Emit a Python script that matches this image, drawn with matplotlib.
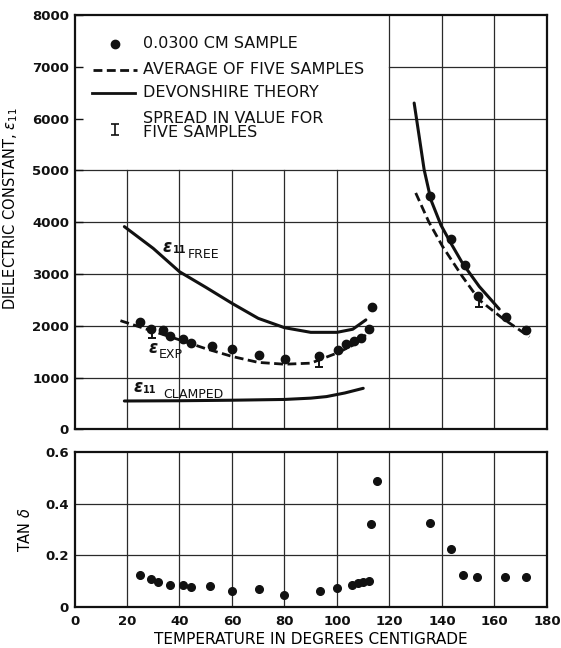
import numpy as np
import matplotlib
matplotlib.use("Agg")
import matplotlib.pyplot as plt

# ---- data ----
# 0.0300 cm sample, dielectric constant
dots_t_lo = [25.1, 29.3, 33.8, 36.5, 41.2, 44.5, 52.3, 60.0, 70.2, 80.3, 93.2,
             100.5, 103.6, 106.5, 109.0, 112.2, 113.5]
dots_e_lo = [2070, 1940, 1925, 1810, 1750, 1675, 1610, 1560, 1440, 1365, 1420,
             1535, 1650, 1705, 1760, 1935, 2365]
dots_t_hi = [135.5, 143.4, 148.6, 153.9, 164.2, 172.0]
dots_e_hi = [4500, 3680, 3165, 2585, 2175, 1920]

# average of five samples (dashed)
avg_t_lo = [17.5, 30, 40, 50, 60, 70, 80, 90, 100, 106, 111]
avg_e_lo = [2100, 1895, 1730, 1560, 1410, 1295, 1260, 1280, 1475, 1625, 1825]
avg_t_hi = [130.0, 135.0, 140.2, 147.8, 154.2, 163.1, 173.3]
avg_e_hi = [4565, 4005, 3535, 2950, 2500, 2145, 1790]

# Devonshire theory (solid)
free_t = [19, 30, 40, 50, 60, 70, 80, 90, 100, 106, 111]
free_e = [3915, 3495, 3045, 2745, 2435, 2145, 1965, 1875, 1875, 1935, 2115]
clamp_t = [19, 40, 60, 80, 90, 96, 103, 110]
clamp_e = [550, 555, 565, 580, 605, 635, 705, 795]
dev_t_hi = [129.4, 131.3, 133.2, 135.8, 139.6, 143.4, 147.8, 154.2, 161.8]
dev_e_hi = [6300, 5660, 5015, 4430, 3945, 3595, 3210, 2760, 2325]

# spread in value for five samples
spread_t = [29.5, 93.0, 154.0]
spread_c = [1860, 1320, 2475]
spread_h = [100, 120, 110]

# loss tangent
tan_t = [24.8, 29.0, 32.0, 36.3, 41.3, 44.5, 51.5, 60.0, 70.1, 79.9, 93.7, 100.1,
         105.8, 107.9, 110.0, 112.2, 113.0, 115.2, 135.3, 143.3, 148.1, 153.3,
         164.0, 172.1]
tan_d = [0.124, 0.107, 0.097, 0.087, 0.084, 0.076, 0.080, 0.063, 0.069, 0.045,
         0.063, 0.075, 0.084, 0.092, 0.096, 0.102, 0.322, 0.488, 0.325, 0.225,
         0.125, 0.115, 0.115, 0.115]

x_ticks = list(range(0, 181, 20))
e_ticks = list(range(0, 8001, 1000))
tan_ticks = [0, 0.2, 0.4, 0.6]
tan_labels = ["0", "0.2", "0.4", "0.6"]

plt.rcParams["font.family"] = ["DejaVu Sans"]
fig = plt.figure(figsize=(5.61, 6.48), dpi=100)
ax1 = fig.add_axes([0.1328, 0.3372, 0.8422, 0.6397])
ax2 = fig.add_axes([0.1328, 0.0633, 0.8422, 0.2392])

K = "#111111"
G = "#2a2a2a"
DASH = (0, (3.2, 1.6))

# ---- top panel ----
ax1.set_xlim(0, 180)
ax1.set_ylim(0, 8000)
for xv in x_ticks[1:-1]:
    top = 5000 if xv < 120 else 8000
    ax1.plot([xv, xv], [0, top], color=G, lw=0.9, zorder=1)
for yv in e_ticks[1:-1]:
    left = 0 if yv <= 5000 else 120
    ax1.plot([left, 180], [yv, yv], color=G, lw=0.9, zorder=1)

ax1.plot(free_t, free_e, color=K, lw=2.2, solid_capstyle="round", zorder=3)
ax1.plot(clamp_t, clamp_e, color=K, lw=2.2, solid_capstyle="round", zorder=3)
ax1.plot(dev_t_hi, dev_e_hi, color=K, lw=2.2, solid_capstyle="round", zorder=3)
ax1.plot(avg_t_lo, avg_e_lo, color=K, lw=2.0, ls=DASH, zorder=3)
ax1.plot(avg_t_hi, avg_e_hi, color=K, lw=2.0, ls=DASH, zorder=3)
ax1.plot(dots_t_lo, dots_e_lo, "o", color=K, ms=6, zorder=4)
ax1.plot(dots_t_hi, dots_e_hi, "o", color=K, ms=6, zorder=4)
ax1.errorbar(spread_t, spread_c, yerr=spread_h, fmt="none", ecolor=K,
             elinewidth=1.4, capsize=3, capthick=1.4, zorder=4)

# curve labels
lab = dict(color=K, zorder=5, ha="center", va="center")
eps = dict(fontsize=12, fontstyle="italic", fontweight="bold")
ax1.text(35.2, 3530, "\u03b5", **eps, **lab)
ax1.text(39.9, 3470, "11", fontsize=7, fontweight="bold", **lab)
ax1.text(49.0, 3370, "FREE", fontsize=9, **lab)
ax1.text(30.0, 1570, "\u03b5", **eps, **lab)
ax1.text(36.5, 1442, "EXP", fontsize=9, **lab)
ax1.text(24.1, 815, "\u03b5", **eps, **lab)
ax1.text(28.8, 760, "11", fontsize=7, fontweight="bold", **lab)
ax1.text(45.2, 675, "CLAMPED", fontsize=9, **lab)

# legend drawn by hand
tx = 26.1
leg = dict(color=K, fontsize=11.5, va="center", ha="left")
ax1.plot([15.4], [7440], "o", color=K, ms=6, zorder=4)
ax1.text(tx, 7440, "0.0300 CM SAMPLE", **leg)
ax1.plot([7.0, 23.8], [6940, 6940], color=K, lw=2.0, ls=DASH)
ax1.text(tx, 6940, "AVERAGE OF FIVE SAMPLES", **leg)
ax1.plot([6.7, 23.0], [6495, 6495], color=K, lw=2.0)
ax1.text(tx, 6495, "DEVONSHIRE THEORY", **leg)
ax1.errorbar([15.4], [5790], yerr=[110], fmt="none", ecolor=K,
             elinewidth=1.2, capsize=3, capthick=1.2)
ax1.text(tx, 5866, "SPREAD IN VALUE FOR\nFIVE SAMPLES", linespacing=0.85, **leg)

ax1.set_xticks(x_ticks)
ax1.set_xticklabels([])
ax1.set_yticks(e_ticks)
ax1.set_yticklabels([str(v) for v in e_ticks], fontsize=9.5, fontweight="bold")
ax1.tick_params(direction="in", length=6, width=1, colors=K, pad=4)
ax1.tick_params(axis="x", length=0)
ax1.set_ylabel("DIELECTRIC CONSTANT, $\\epsilon_{11}$", fontsize=10.5)
ax1.yaxis.set_label_coords(-0.116, 0.533)

# ---- bottom panel ----
ax2.set_xlim(0, 180)
ax2.set_ylim(0, 0.6)
for xv in x_ticks[1:-1]:
    ax2.plot([xv, xv], [0, 0.6], color=G, lw=0.9, zorder=1)
for yv in tan_ticks[1:-1]:
    ax2.plot([0, 180], [yv, yv], color=G, lw=0.9, zorder=1)
ax2.plot(tan_t, tan_d, "o", color=K, ms=5.5, zorder=4)
ax2.set_xticks(x_ticks)
ax2.set_xticklabels([str(v) for v in x_ticks], fontsize=9.5, fontweight="bold")
ax2.set_yticks(tan_ticks)
ax2.set_yticklabels(tan_labels, fontsize=9.5, fontweight="bold")
ax2.tick_params(length=0, colors=K)
ax2.tick_params(axis="x", pad=6)
ax2.tick_params(axis="y", pad=4)
ax2.set_xlabel("TEMPERATURE IN DEGREES CENTIGRADE", fontsize=11, labelpad=3)
ax2.set_ylabel("TAN $\\delta$", fontsize=10.5)
ax2.yaxis.set_label_coords(-0.088, 0.5)

for a in (ax1, ax2):
    for s in a.spines.values():
        s.set_linewidth(1.6)
        s.set_color(K)

fig.savefig("out.png", dpi=100)
